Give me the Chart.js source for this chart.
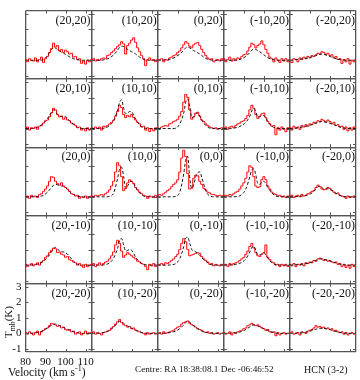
<!DOCTYPE html>
<html>
<head>
  <script src="https://cdn.jsdelivr.net/npm/chart.js"></script>
  <style>
    body { margin: 0; background: #fff; }
    #wrap { position: relative; width: 360px; height: 380px; font-family: "Liberation Serif", "DejaVu Serif", serif; color: #111; }
    #grid { position: absolute; left: 0; top: 0; }
    .lbl { position: absolute; white-space: nowrap; line-height: 1; }
    sub, sup { font-size: 70%; line-height: 0; }
  </style>
</head>
<body>
  <div id="wrap">
    <canvas id="grid" width="360" height="380"></canvas>
    <div class="lbl" id="ytitle" style="left:8px; top:322px; font-size:11px; transform: translate(-50%,-50%) rotate(-90deg);">T<sub>mb</sub>(K)</div>
    <div class="lbl" style="left:8px; top:367px; font-size:11.5px;">Velocity (km s<sup>-1</sup>)</div>
    <div class="lbl" style="left:135px; top:365px; font-size:9.2px;">Centre: RA 18:38:08.1 Dec -06:46:52</div>
    <div class="lbl" style="left:304px; top:365px; font-size:10px;">HCN (3-2)</div>
  </div>

  <script>
    // channel velocities (km/s) of the observed spectra and of the model curves
    const VEL_OBS = [80, 81, 82, 83, 84, 85, 86, 87, 88, 89, 90, 91, 92, 93, 94, 95, 96, 97, 98, 99,
                     100, 101, 102, 103, 104, 105, 106, 107, 108, 109, 110, 111, 112, 113]
    const VEL_MOD = [80, 84, 87, 89, 91, 93, 94, 95, 96, 97, 98, 99, 100, 101, 102, 104, 106, 109, 113]

    // panel offsets (arcsec): columns are RA offsets, rows are Dec offsets
    const RA_OFFSETS = [20, 10, 0, -10, -20]
    const DEC_OFFSETS = [20, 10, 0, -10, -20]

    const V_MIN = 80, V_MAX = 113
    const T_MIN = -1.2, T_MAX = 3.2
    const X_TICKS = [80, 90, 100, 110]
    const Y_TICKS = [-1, 0, 1, 2, 3]

    // observed T_mb, one array per RA offset (20 .. -20)
    const OBS_DEC_P20 = [
      [0.05,-0.1,0.1,0,-0.05,0.15,-0.1,0.05,0.2,-0.15, 0.1,0.25,0.5,0.75,1.1,0.85,0.95,0.6,0.7,0.5, 0.65,0.55,0.4,0.45,0.2,0.25,0.05,0.1,-0.2,-0.05, -0.25,0,-0.1,0.05],
      [0,0.1,-0.05,0.05,0,0.1,0.15,0.1,0.3,0.35, 0.5,0.6,0.75,0.9,1.0,1.2,1.05,0.4,0.95,1.1, 1.3,1.45,1.15,0.8,0.55,0.3,0.1,-0.35,0.05,0.15, 0,0.05,-0.1,0.05],
      [-0.05,0.05,0.1,-0.1,0.05,0,0.15,0.2,0.3,0.35, 0.5,0.6,0.8,1.0,1.2,1.1,0.9,0.8,1.0,1.1, 1.15,0.95,0.7,0.5,0.3,0.15,0.05,0.1,-0.1,0, 0.05,-0.05,0.1,0],
      [0.1,-0.1,0.05,0.2,-0.05,0.1,0,0.15,0.1,0.25, 0.35,0.4,0.6,0.85,1.1,1.0,0.8,0.95,1.05,1.25, 1.0,0.7,0.45,0.2,0.1,-0.1,0.15,0,-0.15,0.1, -0.05,0.1,-0.1,0.05],
      [0,-0.15,0.1,0.05,-0.1,0.15,0.05,0.2,0.1,0.25, 0.15,0.3,0.25,0.35,0.45,0.4,0.55,0.5,0.35,0.45, 0.3,0.35,0.15,0.25,0.05,0.1,-0.2,0.05,-0.1,0.1, -0.25,0,-0.1,0.05]
    ]
    const OBS_DEC_P10 = [
      [0,0.1,-0.1,0.05,0,0.1,-0.05,0.15,0.2,0.35, 0.5,0.55,0.75,1.0,1.3,1.2,0.9,0.75,0.8,0.6, 0.7,0.55,0.5,0.35,0.3,0.2,0.05,0.1,-0.1,0, -0.15,0.05,-0.1,0],
      [0.05,-0.05,0.1,0,0.1,-0.1,0.15,0.1,0.2,0.3, 0.4,0.55,0.8,1.1,1.5,1.35,0.9,0.7,0.85,0.75, 0.9,0.7,0.55,0.4,0.3,0.1,0.15,-0.1,0.05,-0.2, 0,-0.15,0.05,-0.05],
      [0.05,0,0.1,0.15,0.2,0.15,0.3,0.35,0.45,0.5, 0.6,0.8,1.1,1.7,2.2,2.0,1.2,0.6,0.75,1.0, 1.05,0.8,0.55,0.45,0.3,0.2,0.1,0.05,0,0.05, -0.05,0,0.05,0],
      [0,0.1,-0.05,0.1,0.15,0.05,0.2,0.3,0.35,0.45, 0.5,0.65,0.85,1.2,1.5,1.3,0.9,0.65,0.8,0.95, 1.0,0.7,0.45,0.3,0.15,0.2,-0.4,0.05,-0.1,0.1, -0.05,-0.2,0.05,-0.1],
      [0.05,-0.1,0.15,0,0.1,-0.05,0.2,0.1,0.25,0.15, 0.3,0.25,0.4,0.35,0.5,0.45,0.6,0.5,0.4,0.55, 0.45,0.3,0.4,0.2,0.25,0.1,0.15,-0.05,0.1,-0.15, 0.05,-0.1,0.1,-0.05]
    ]
    const OBS_DEC_0 = [
      [0,0.05,-0.1,0.1,0,0.05,-0.05,0.15,0.2,0.35, 0.5,0.7,1.0,1.3,1.25,1.0,0.85,0.75,0.9,0.7, 0.6,0.5,0.35,0.2,0.15,0.05,0.1,-0.1,0,-0.05, 0.05,-0.1,0,0.05],
      [0.05,0,0.1,0.05,0.1,0.15,0.1,0.2,0.3,0.45, 0.7,1.0,1.6,2.2,2.0,1.3,0.4,0.55,0.9,1.1, 1.0,0.85,0.6,0.45,0.3,0.2,0.1,0.05,-0.1,0.05, 0,-0.05,0.1,0],
      [0.1,0.15,0.1,0.2,0.3,0.4,0.5,0.65,0.8,0.9, 1.1,1.6,2.5,3.0,2.6,1.5,0.5,0.55,1.2,1.4, 1.35,1.0,0.8,0.55,0.45,0.3,0.25,0.15,0.15,0.1, 0.05,0.1,0.05,0.1],
      [0.05,0.1,0.05,0.15,0.1,0.2,0.3,0.35,0.5,0.7, 0.9,1.2,1.6,2.0,1.9,1.3,0.7,0.6,0.65,1.1, 1.3,1.1,0.7,0.5,0.3,0.2,0.15,0.05,0.1,0, 0.05,-0.05,0.05,0],
      [0,0.1,-0.05,0.05,0.1,0,0.15,0.05,0.1,0.2, 0.25,0.35,0.4,0.6,0.75,0.65,0.5,0.45,0.5,0.6, 0.55,0.4,0.3,0.2,0.25,0.1,0.05,0,-0.1,0.05, -0.05,0,0.05,-0.05]
    ]
    const OBS_DEC_M10 = [
      [0.05,-0.1,0,0.1,-0.05,0.05,0.15,0,0.2,0.3, 0.5,0.6,0.8,0.95,1.1,1.05,0.8,0.85,0.7,0.65, 0.5,0.55,0.35,0.3,0.2,0.15,0,0.1,-0.05,-0.15, 0.05,-0.1,0,0.05],
      [0,0.1,-0.1,0.05,0.15,0,0.1,0.2,0.25,0.4, 0.6,0.85,1.3,1.6,1.4,0.9,0.5,0.65,0.8,0.7, 0.6,0.5,0.4,0.25,0.2,0.1,0.05,-0.1,-0.3,0.05, -0.05,0.1,-0.1,0],
      [0,0.05,0.1,0,0.15,0.1,0.2,0.3,0.4,0.55, 0.7,1.0,1.4,1.7,1.5,1.0,0.6,0.65,0.7,0.75, 0.8,0.75,0.55,0.4,0.3,0.2,0.05,0.1,-0.05,0.05, 0,-0.05,0.05,0],
      [0,0.05,-0.1,0.1,0,0.1,0.15,0.2,0.3,0.4, 0.5,0.7,0.9,1.2,1.4,1.1,0.8,0.6,0.55,0.7, 0.8,1.3,0.5,0.35,0.2,0.15,0,0.05,-0.1,0.05, -0.05,0.05,-0.1,0],
      [0.05,-0.05,0.1,-0.1,0.05,0,0.1,-0.05,0.15,0.1, 0.2,0.15,0.3,0.25,0.4,0.45,0.4,0.3,0.35,0.25, 0.3,0.2,0.15,0.2,0.05,0.1,-0.1,0.05,-0.15,0, -0.2,0.05,-0.1,0]
    ]
    const OBS_DEC_M20 = [
      [0.05,-0.05,0.1,0,-0.1,0.05,0.15,-0.1,0.1,0.2, 0.3,0.35,0.5,0.65,0.6,0.55,0.45,0.5,0.35,0.4, 0.25,0.2,0.25,0.1,0.15,-0.05,0.05,0.1,-0.1,0, 0.15,-0.05,0.05,0],
      [0,0.1,-0.05,0.05,0,-0.1,0.05,0.1,0.15,0.2, 0.35,0.45,0.6,0.75,0.9,0.7,0.55,0.5,0.4,0.45, 0.3,0.35,0.2,0.15,0.1,0.05,0,-0.1,0.05,-0.05, 0,0.05,-0.05,0],
      [0,0.05,-0.05,0.1,0,0.05,0.1,0.15,0.2,0.3, 0.4,0.45,0.6,0.7,0.75,0.8,0.65,0.55,0.5,0.4, 0.3,0.25,0.2,0.1,0.05,0.1,0,0.05,-0.05,0, 0.05,-0.05,0,0.05],
      [0.05,-0.05,0,0.1,-0.1,0.05,0,0.1,0.15,0.2, 0.3,0.35,0.5,0.55,0.65,0.55,0.5,0.55,0.45,0.35, 0.3,0.2,0.25,0.1,0.05,0.1,-0.15,0.05,-0.1,0, 0.05,-0.05,0,0.05],
      [0,0.1,-0.05,0,0.05,-0.1,0.1,0.05,0,0.15, 0.2,0.25,0.35,0.5,0.4,0.45,0.35,0.4,0.3,0.35, 0.25,0.3,0.15,0.2,0.1,0.05,0.1,-0.05,0.05,-0.1, 0,0.05,-0.05,0]
    ]

    // model T_mb on VEL_MOD
    const MOD_DEC_P20 = [
      [0,0,0,0.05,0.3,0.7,0.8,0.78,0.7,0.6,0.52,0.45,0.38,0.3,0.22,0.1,0.03,0,0],
      [0,0,0.05,0.15,0.35,0.65,0.85,0.9,0.88,0.8,0.7,0.62,0.55,0.48,0.4,0.2,0.05,0,0],
      [0,0.02,0.1,0.22,0.4,0.65,0.8,0.85,0.8,0.7,0.62,0.55,0.48,0.4,0.3,0.12,0.03,0,0],
      [0,0,0.02,0.1,0.25,0.5,0.65,0.72,0.7,0.62,0.55,0.45,0.35,0.25,0.17,0.06,0.01,0,0],
      [0,0.05,0.1,0.15,0.22,0.3,0.35,0.38,0.4,0.38,0.35,0.3,0.25,0.2,0.15,0.07,0.02,0,0]
    ]
    const MOD_DEC_P10 = [
      [0,0.02,0.15,0.35,0.65,1.05,1.2,1.1,0.9,0.8,0.78,0.8,0.78,0.65,0.5,0.25,0.08,0,0],
      [0,0,0.05,0.2,0.5,1.2,1.7,1.85,1.3,0.95,1.0,1.1,1.08,0.85,0.6,0.22,0.05,0,0],
      [0,0,0,0.02,0.3,1.0,1.7,1.9,1.4,0.7,0.75,0.95,1.0,0.8,0.55,0.2,0.03,0,0],
      [0,0.02,0.08,0.2,0.4,0.8,1.15,1.3,1.05,0.75,0.75,0.85,0.85,0.65,0.45,0.15,0.03,0,0],
      [0,0.05,0.12,0.18,0.26,0.35,0.4,0.43,0.45,0.44,0.42,0.38,0.34,0.3,0.25,0.15,0.06,0,0]
    ]
    const MOD_DEC_0 = [
      [0,0,0.03,0.1,0.3,0.6,0.75,0.8,0.78,0.72,0.7,0.68,0.6,0.48,0.35,0.15,0.03,0,0],
      [0,0,0,0.02,0.25,1.2,1.8,1.9,1.3,0.55,0.7,0.95,1.0,0.85,0.6,0.25,0.05,0,0],
      [0,0,0,0.03,0.3,1.5,2.4,2.6,1.2,0.55,0.8,1.3,1.55,1.6,1.25,0.4,0.05,0,0],
      [0,0,0.03,0.15,0.5,1.3,1.75,1.8,1.4,0.85,0.8,0.95,1.0,0.85,0.6,0.25,0.05,0,0],
      [0,0.02,0.06,0.12,0.25,0.5,0.65,0.68,0.6,0.5,0.5,0.52,0.5,0.42,0.32,0.15,0.04,0,0]
    ]
    const MOD_DEC_M10 = [
      [0,0.02,0.1,0.25,0.5,0.85,1.05,1.15,1.05,0.9,0.85,0.85,0.8,0.7,0.55,0.25,0.06,0,0],
      [0,0,0.03,0.15,0.45,1.1,1.6,1.7,1.3,0.9,0.95,1.0,0.95,0.75,0.5,0.2,0.04,0,0],
      [0,0,0.02,0.1,0.4,1.2,1.75,1.8,1.4,1.0,0.92,0.85,0.75,0.62,0.48,0.25,0.06,0,0],
      [0,0.02,0.08,0.18,0.4,0.85,1.15,1.2,0.95,0.65,0.65,0.75,0.8,0.65,0.45,0.15,0.03,0,0],
      [0,0.03,0.07,0.12,0.2,0.3,0.36,0.4,0.4,0.37,0.33,0.3,0.26,0.22,0.18,0.1,0.03,0,0]
    ]
    const MOD_DEC_M20 = [
      [0,0.02,0.08,0.2,0.35,0.52,0.58,0.6,0.56,0.5,0.44,0.38,0.32,0.26,0.2,0.1,0.03,0,0],
      [0,0.02,0.08,0.2,0.4,0.68,0.78,0.75,0.65,0.55,0.47,0.4,0.33,0.26,0.2,0.1,0.02,0,0],
      [0,0.02,0.07,0.15,0.3,0.55,0.7,0.78,0.72,0.6,0.48,0.38,0.3,0.22,0.15,0.07,0.02,0,0],
      [0,0.02,0.06,0.13,0.25,0.42,0.5,0.55,0.52,0.47,0.42,0.36,0.3,0.24,0.18,0.09,0.02,0,0],
      [0,0.02,0.05,0.1,0.18,0.27,0.31,0.33,0.33,0.32,0.3,0.27,0.24,0.2,0.16,0.09,0.03,0,0]
    ]

    const OBS = [OBS_DEC_P20, OBS_DEC_P10, OBS_DEC_0, OBS_DEC_M10, OBS_DEC_M20]
    const MOD = [MOD_DEC_P20, MOD_DEC_P10, MOD_DEC_0, MOD_DEC_M10, MOD_DEC_M20]

    const FRAME = '#555'
    const serif = '"Liberation Serif", "DejaVu Serif", serif'

    // only the panel edges get a visible grid line
    function edgeColor(lo, hi) {
      return ctx => (ctx.tick && (ctx.tick.value === lo || ctx.tick.value === hi)) ? FRAME : 'rgba(0,0,0,0)'
    }

    const scales = {}
    RA_OFFSETS.forEach((ra, c) => {
      scales['x' + c] = {
        type: 'linear', position: 'bottom', stack: 'vel', weight: 1,
        min: V_MIN, max: V_MAX,
        afterBuildTicks: s => { s.ticks = X_TICKS.concat([V_MAX]).map(v => ({ value: v })) },
        afterFit: s => { s.height = 28 },
        border: { display: false },
        grid: { drawTicks: false, lineWidth: 1.3, color: edgeColor(V_MIN, V_MAX) },
        ticks: {
          display: c === 0, autoSkip: false, maxRotation: 0, padding: 4,
          color: '#111', font: { family: serif, size: 11 },
          callback: v => X_TICKS.includes(v) ? String(v) : ''
        }
      }
    })
    DEC_OFFSETS.forEach((dec, r) => {
      scales['y' + r] = {
        type: 'linear', position: 'left', stack: 'temp', weight: 5 - r,
        min: T_MIN, max: T_MAX,
        afterBuildTicks: s => { s.ticks = [T_MIN].concat(Y_TICKS, [T_MAX]).map(v => ({ value: v })) },
        afterFit: s => { s.width = 25.5 },
        border: { display: false },
        grid: { drawTicks: false, lineWidth: 1.3, color: edgeColor(T_MIN, T_MAX) },
        ticks: {
          display: r === 4, autoSkip: false, padding: 4,
          color: '#111', font: { family: serif, size: 11 },
          callback: v => Y_TICKS.includes(v) ? String(v) : ''
        }
      }
    })

    const datasets = []
    DEC_OFFSETS.forEach((dec, r) => {
      RA_OFFSETS.forEach((ra, c) => {
        datasets.push({
          label: `model (${ra},${dec})`,
          xAxisID: 'x' + c, yAxisID: 'y' + r,
          data: VEL_MOD.map((v, i) => ({ x: v, y: MOD[r][c][i] })),
          borderColor: '#1a1a1a', borderWidth: 1, borderDash: [3, 2],
          cubicInterpolationMode: 'monotone', pointRadius: 0, order: 0
        })
        datasets.push({
          label: `obs (${ra},${dec})`,
          xAxisID: 'x' + c, yAxisID: 'y' + r,
          data: VEL_OBS.map((v, i) => ({ x: v, y: OBS[r][c][i] })),
          borderColor: '#ff0000', borderWidth: 1, stepped: 'middle',
          pointRadius: 0, order: 1
        })
      })
    })

    // inward tick marks and the (RA,Dec) label of every panel
    const panelDecor = {
      id: 'panelDecor',
      afterDatasetsDraw(chart) {
        const ctx = chart.ctx
        ctx.save()
        ctx.strokeStyle = FRAME
        ctx.lineWidth = 1
        DEC_OFFSETS.forEach((dec, r) => {
          const ys = chart.scales['y' + r]
          RA_OFFSETS.forEach((ra, c) => {
            const xs = chart.scales['x' + c]
            ctx.beginPath()
            X_TICKS.slice(1).forEach(v => {
              const px = Math.round(xs.getPixelForValue(v)) + 0.5
              ctx.moveTo(px, ys.top); ctx.lineTo(px, ys.top + 3)
              ctx.moveTo(px, ys.bottom); ctx.lineTo(px, ys.bottom - 3)
            })
            Y_TICKS.forEach(v => {
              const py = Math.round(ys.getPixelForValue(v)) + 0.5
              ctx.moveTo(xs.left, py); ctx.lineTo(xs.left + 3, py)
              ctx.moveTo(xs.right, py); ctx.lineTo(xs.right - 3, py)
            })
            ctx.stroke()
            ctx.fillStyle = '#111'
            ctx.font = '12px ' + serif
            ctx.textAlign = 'right'
            ctx.textBaseline = 'top'
            ctx.fillText(`(${ra},${dec})`, xs.right - 1, ys.top + 4)
          })
        })
        ctx.restore()
      }
    }

    new Chart(document.getElementById('grid'), {
      type: 'line',
      data: { datasets },
      options: {
        responsive: false,
        animation: false,
        events: [],
        layout: { padding: { top: 3, right: 1.5, left: 0, bottom: 0 } },
        scales,
        plugins: { legend: { display: false }, tooltip: { enabled: false } }
      },
      plugins: [panelDecor]
    })
  </script>
</body>
</html>
